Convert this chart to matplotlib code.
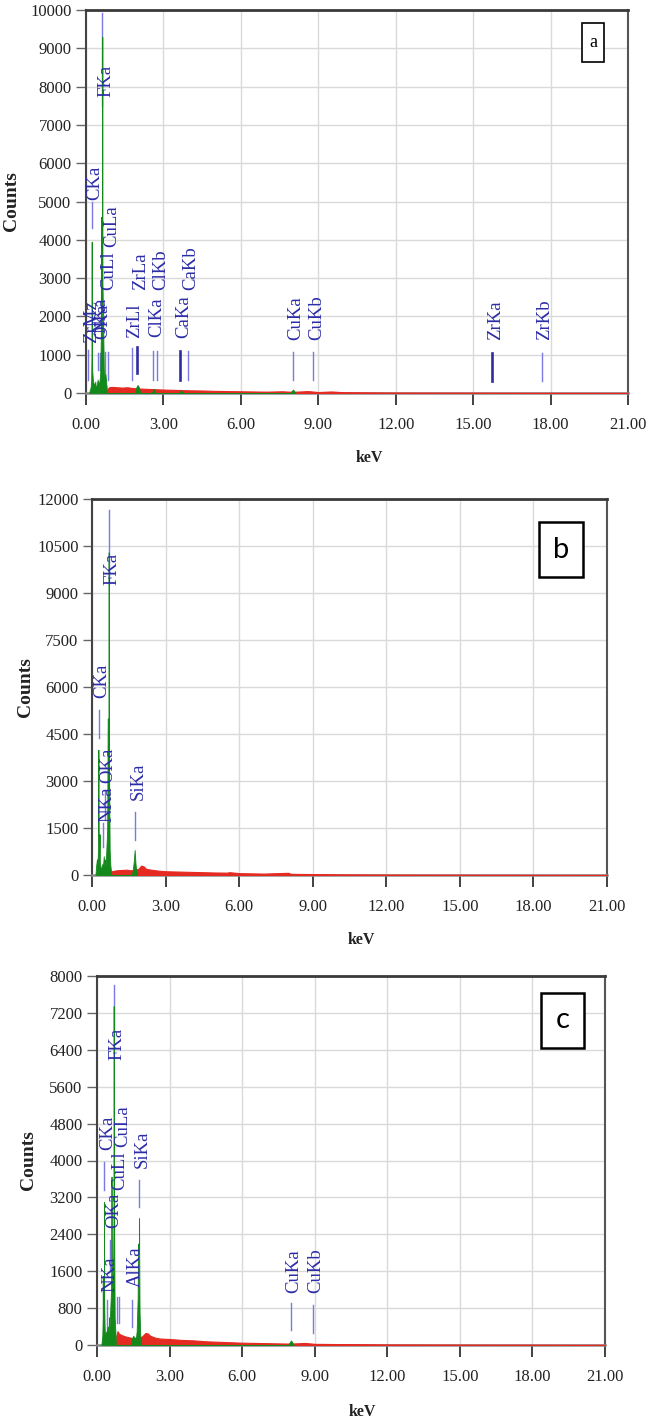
import matplotlib
matplotlib.use('Agg')
import matplotlib.pyplot as plt
from matplotlib.patches import Rectangle

# ---------------- data ----------------
x_ticks = [0, 3, 6, 9, 12, 15, 18, 21]
x_ticklabels = ['0.00', '3.00', '6.00', '9.00', '12.00', '15.00', '18.00', '21.00']
y_ticks_a = [0, 1000, 2000, 3000, 4000, 5000, 6000, 7000, 8000, 9000, 10000]
y_ticks_b = [0, 1500, 3000, 4500, 6000, 7500, 9000, 10500, 12000]
y_ticks_c = [0, 800, 1600, 2400, 3200, 4000, 4800, 5600, 6400, 7200, 8000]

# panel a : continuum (red) and element peaks (green)
bg_kev_a = [0.80, 0.85, 0.9, 1.0, 1.2, 1.4, 1.6, 1.8, 2.0, 2.3, 2.6, 3.0, 3.5, 4.0, 4.5, 5.0,
            6.0, 7.0, 7.6, 8.0, 8.6, 9.0, 9.5, 10.0, 11.0, 12.0, 14.0, 16.0, 18.0, 21.0]
bg_cnt_a = [0, 120, 150, 160, 150, 140, 150, 130, 120, 110, 100, 90, 80, 70, 65, 55,
            45, 35, 45, 30, 50, 25, 40, 20, 15, 10, 8, 6, 5, 3]
pk_kev_a = [0.12, 0.15, 0.18, 0.20, 0.215, 0.22, 0.225, 0.24, 0.27, 0.30, 0.33, 0.36, 0.38,
            0.42, 0.45, 0.48, 0.52, 0.55, 0.575, 0.58, 0.585, 0.60, 0.625, 0.63, 0.635, 0.66,
            0.69, 0.72, 0.75, 0.78, 0.82,
            1.90, 1.95, 2.00, 2.05, 2.10, 2.55, 2.62, 2.70, 3.60, 3.68, 3.76, 7.90, 8.02, 8.12]
pk_cnt_a = [0, 80, 150, 300, 1200, 3950, 1200, 600, 300, 250, 200, 300, 150,
            200, 350, 250, 300, 500, 1500, 4600, 1500, 1500, 3000, 9300, 3000, 2000,
            600, 400, 500, 300, 0,
            0, 150, 210, 150, 0, 0, 110, 0, 0, 70, 0, 0, 90, 0]
names_a = ['CKa', 'FKa', 'ZrMz', 'NKa', 'OKa', 'CuLl', 'CuLa', 'ZrLl', 'ZrLa', 'ClKa', 'ClKb',
           'CaKa', 'CaKb', 'CuKa', 'CuKb', 'ZrKa', 'ZrKb']
kev_a = [0.22, 0.63, 0.09, 0.45, 0.54, 0.75, 0.86, 1.77, 1.99, 2.61, 2.76, 3.65, 3.94,
         8.01, 8.81, 15.74, 17.66]

# panel b
bg_kev_b = [0.75, 0.8, 1.0, 1.2, 1.4, 1.6, 1.9, 2.0, 2.1, 2.2, 2.4, 2.7, 3.0, 3.5, 4.0, 4.5,
            5.0, 5.5, 5.6, 6.0, 7.0, 8.0, 8.1, 8.3, 9.0, 10.0, 12.0, 15.0, 18.0, 21.0]
bg_cnt_b = [0, 120, 150, 160, 170, 150, 200, 300, 280, 200, 170, 140, 120, 110, 100, 90,
            80, 75, 90, 60, 45, 70, 40, 35, 30, 20, 12, 8, 5, 3]
pk_kev_b = [0.14, 0.17, 0.20, 0.22, 0.25, 0.26, 0.27, 0.29, 0.31, 0.32, 0.35, 0.38, 0.42,
            0.45, 0.48, 0.50, 0.53, 0.55, 0.58, 0.62, 0.64, 0.66, 0.675, 0.68, 0.685, 0.70,
            0.72, 0.75, 0.79,
            1.62, 1.66, 1.70, 1.74, 1.77, 1.80, 1.84]
pk_cnt_b = [0, 300, 500, 250, 1000, 4000, 1500, 600, 1300, 400, 250, 200, 350,
            300, 600, 350, 500, 300, 700, 1500, 5000, 2000, 4000, 10300, 4000, 3000,
            800, 300, 0,
            0, 150, 400, 800, 400, 150, 0]
names_b = ['CKa', 'NKa', 'OKa', 'FKa', 'SiKa']
kev_b = [0.27, 0.46, 0.53, 0.69, 1.75]

# panel c
bg_kev_c = [0.78, 0.8, 0.85, 0.9, 1.0, 1.1, 1.2, 1.3, 1.45, 1.6, 1.85, 2.0, 2.1, 2.2, 2.4,
            2.6, 3.0, 3.5, 4.0, 4.5, 5.0, 5.5, 6.0, 7.0, 8.0, 8.6, 9.0, 10.0, 12.0, 15.0,
            18.0, 21.0]
bg_cnt_c = [0, 200, 300, 250, 220, 200, 180, 170, 150, 160, 180, 260, 250, 200, 160,
            140, 130, 110, 100, 80, 70, 60, 50, 40, 30, 45, 25, 20, 12, 8, 6, 4]
pk_kev_c = [0.18, 0.22, 0.235, 0.24, 0.245, 0.25, 0.27, 0.285, 0.29, 0.295, 0.30, 0.32,
            0.35, 0.40, 0.45, 0.48, 0.50, 0.52, 0.55, 0.58, 0.595, 0.60, 0.605, 0.62, 0.66,
            0.685, 0.69, 0.695, 0.71, 0.73, 0.76, 0.78,
            1.40, 1.45, 1.50, 1.55, 1.60, 1.64, 1.68, 1.70, 1.72, 1.735, 1.74, 1.745, 1.76,
            1.79, 1.82, 7.90, 8.02, 8.14]
pk_cnt_c = [0, 200, 600, 1500, 600, 300, 400, 1000, 3100, 1000, 800, 300,
            250, 300, 400, 300, 600, 400, 800, 1200, 2000, 3650, 2000, 1500, 1200,
            3000, 7350, 3000, 2500, 600, 300, 0,
            0, 150, 200, 150, 100, 300, 1000, 2200, 2200, 2000, 2750, 2000, 700,
            200, 0, 0, 100, 0]
names_c = ['CKa', 'NKa', 'OKa', 'FKa', 'CuLl', 'CuLa', 'AlKa', 'SiKa', 'CuKa', 'CuKb']
kev_c = [0.30, 0.40, 0.54, 0.70, 0.81, 0.92, 1.46, 1.75, 8.02, 8.92]

# ---------------- label placement (counts) ----------------
place_a = dict(lo=[4300, 7500, 340, 600, 600, 340, 340, 340, 520, 340, 340, 340, 340, 340, 340, 310, 310],
               hi=[4990, 9920, 1120, 1050, 1050, 1070, 1070, 1170, 1200, 1100, 1100, 1100, 1100, 1070, 1070, 1050, 1050],
               txt=[5040, 7730, 1300, 1560, 1400, 2690, 3810, 1440, 2690, 1460, 2690, 1440, 2690, 1380, 1380, 1380, 1380],
               bold=[False, False, False, False, False, False, False, False, True, False, False, True, False, False, False, True, False])
place_b = dict(lo=[4370, 890, 1750, 9300, 1120],
               hi=[5270, 1660, 2700, 11650, 2010],
               txt=[5650, 1690, 2940, 9260, 2390],
               bold=[False] * 5)
place_c = dict(lo=[3360, 330, 1630, 6830, 480, 480, 390, 2990, 330, 260],
               hi=[3970, 980, 2280, 7810, 1040, 1040, 980, 3580, 910, 870],
               txt=[4230, 1150, 2540, 6180, 3360, 4300, 1260, 3840, 1130, 1130],
               bold=[False] * 10)

W, H, DPI = 648, 1424, 100
RED = '#e52a22'
GREEN = '#13891c'
BLUE_TXT = '#2c2ca8'
BLUE_LINE = '#7a7ae0'
BLUE_DARK = '#2e2ea0'
SERIF = ['Liberation Serif', 'DejaVu Serif']

fig = plt.figure(figsize=(W / DPI, H / DPI), dpi=DPI)
fig.patch.set_facecolor('white')


def px_axes(left, top, right, bottom):
    return fig.add_axes([left / W, 1 - bottom / H, (right - left) / W, (bottom - top) / H])


def panel(box, yt, ymax, bgk, bgc, pkk, pkc, names, kev, place, ylab_x, ytick_len):
    ax = px_axes(*box)
    ax.set_xlim(0, 21)
    ax.set_ylim(0, ymax)
    ax.set_axisbelow(True)
    ax.grid(True, color='#dadada', lw=1.0)
    ax.set_xticks(x_ticks)
    ax.set_xticklabels(x_ticklabels)
    ax.set_yticks(yt)
    ax.set_yticklabels([str(v) for v in yt])
    for lab in ax.get_xticklabels() + ax.get_yticklabels():
        lab.set_fontfamily(SERIF)
        lab.set_fontsize(12)
        lab.set_color('#222222')
    ax.tick_params(axis='x', direction='out', length=8.6, width=1.3, pad=8.5, color='#333333')
    ax.tick_params(axis='y', direction='out', length=ytick_len, width=1.0, pad=3.2, color='#666666')
    ax.spines['top'].set_color('#3a3a3a')
    ax.spines['top'].set_linewidth(2.0)
    ax.spines['left'].set_color('#444444')
    ax.spines['left'].set_linewidth(1.5)
    ax.spines['right'].set_color('#555555')
    ax.spines['right'].set_linewidth(1.5)
    ax.spines['bottom'].set_color('#8a8a8a')
    ax.spines['bottom'].set_linewidth(1.8)

    ax.fill_between(bgk, bgc, 0, color=RED, lw=0.8, zorder=3)
    ax.fill_between(pkk, pkc, 0, color=GREEN, lw=0.6, zorder=3.2)

    for i, nm in enumerate(names):
        bold = place['bold'][i]
        ax.plot([kev[i], kev[i]], [place['lo'][i], place['hi'][i]],
                color=BLUE_DARK if bold else BLUE_LINE, lw=1.9 if bold else 1.0, zorder=2.8)
        ax.annotate(nm, xy=(kev[i], place['txt'][i]), xytext=(2.3, 0), textcoords='offset points',
                    rotation=90, ha='center', va='bottom', color=BLUE_TXT, fontsize=13.5,
                    family=SERIF, zorder=4)

    ax.text(ylab_x, 0.5, 'Counts', transform=ax.transAxes, rotation=90, ha='center', va='center',
            fontsize=14, fontweight='bold', family=SERIF, color='#222222')
    return ax


ax_a = panel((86, 10, 628, 393), y_ticks_a, 10000, bg_kev_a, bg_cnt_a, pk_kev_a, pk_cnt_a,
             names_a, kev_a, place_a, -0.137, 7.2)
ax_b = panel((92, 499, 607, 875), y_ticks_b, 12000, bg_kev_b, bg_cnt_b, pk_kev_b, pk_cnt_b,
             names_b, kev_b, place_b, -0.13, 6.5)
ax_c = panel((97, 976, 605, 1345), y_ticks_c, 8000, bg_kev_c, bg_cnt_c, pk_kev_c, pk_cnt_c,
             names_c, kev_c, place_c, -0.134, 7.2)

# keV labels
for cx, cy in [(369, 458), (361, 940), (362, 1412)]:
    fig.text(cx / W, 1 - cy / H, 'keV', ha='center', va='center', fontsize=11.5,
             fontweight='bold', family=SERIF, color='#222222')

# panel tag boxes
tags = [('a', (582, 23, 604, 62), SERIF, 13, 1.2),
        ('b', (539, 522, 583, 577), ['Lato', 'DejaVu Sans'], 21, 1.8),
        ('c', (541, 993, 584, 1048), ['Lato', 'DejaVu Sans'], 21, 1.8)]
for t, (l, tp, r, b), fam, fs, lw in tags:
    fig.patches.append(Rectangle((l / W, 1 - b / H), (r - l) / W, (b - tp) / H,
                                 transform=fig.transFigure, fill=True, facecolor='white',
                                 edgecolor='black', lw=lw, zorder=5))
    fig.text((l + r) / 2 / W, 1 - (tp + b) / 2 / H, t, ha='center', va='center',
             fontsize=fs, family=fam, color='black', zorder=6)

fig.savefig('out.png', dpi=DPI, facecolor='white')
